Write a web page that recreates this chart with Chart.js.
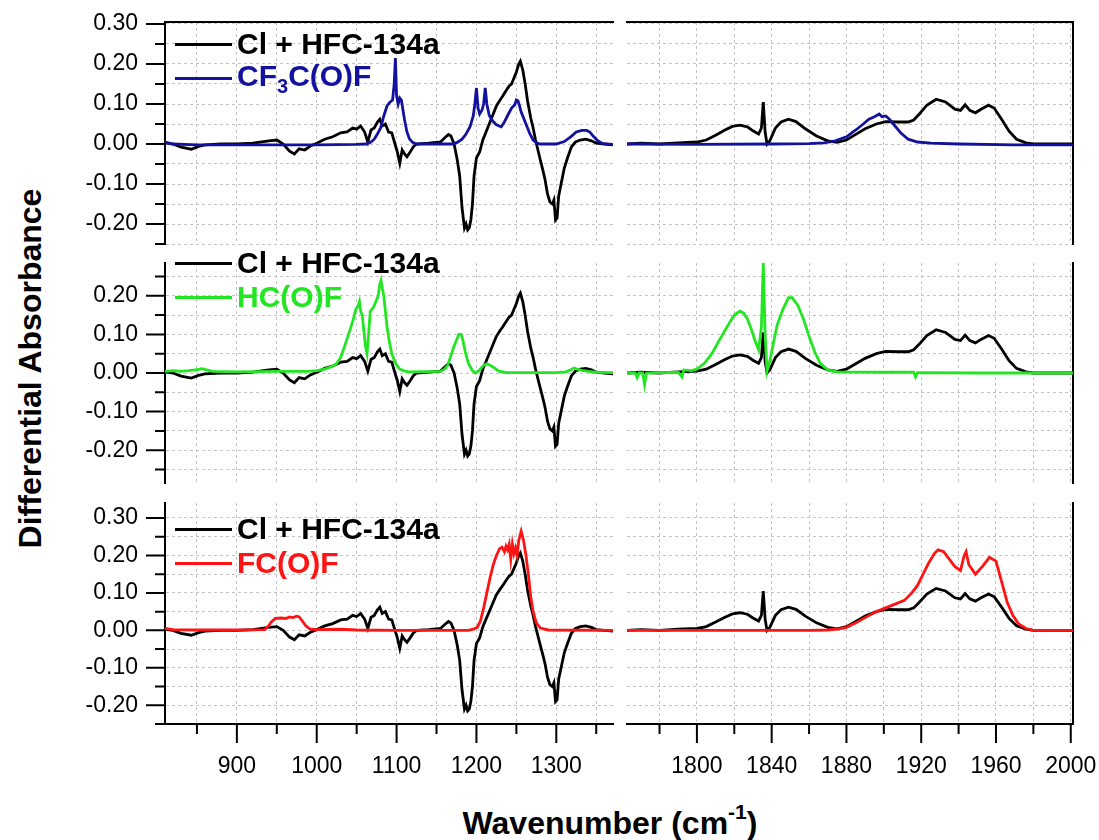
<!DOCTYPE html>
<html>
<head>
<meta charset="utf-8">
<script src="https://cdn.jsdelivr.net/npm/chart.js@4.4.1/dist/chart.umd.min.js"></script>
<style>
  body { margin: 0; background: #fff; overflow: hidden; }
  #wrap { position: relative; width: 1099px; height: 840px; font-family: "Liberation Sans", Arial, sans-serif; }
  #wrap canvas { position: absolute; }
  .leg { position: absolute; left: 175px; height: 30px; display: flex; align-items: center; font-weight: bold; font-size: 30px; white-space: nowrap; z-index: 5; }
  .leg i { display: inline-block; width: 57px; height: 3px; margin-right: 5px; }
  .leg sub { font-size: 20px; vertical-align: -7px; }
  #ytitle { position: absolute; left: -170px; top: 350px; width: 400px; text-align: center; transform: rotate(-90deg); font-weight: bold; font-size: 32px; }
  #xtitle { position: absolute; left: 360px; top: 800px; width: 500px; text-align: center; font-weight: bold; font-size: 32px; }
  #xtitle sup { font-size: 21px; vertical-align: 15px; }
</style>
</head>
<body>
<div id="wrap">
  <div id="ytitle">Differential Absorbance</div>
  <div id="xtitle">Wavenumber (cm<sup>-1</sup>)</div>
</div>
<script>
// Cl + HFC-134a product spectrum (same trace in every panel)
const blackLow = [[810,0.003],[820,0],[830,-0.008],[843,-0.013],[852,-0.006],[860,-0.002],[880,0],[900,0],[920,0.002],[940,0.008],[950,0.01],[958,0],[966,-0.018],[972,-0.025],[978,-0.012],[985,-0.015],[992,-0.005],[1000,0.002],[1010,0.012],[1020,0.018],[1030,0.028],[1038,0.03],[1045,0.04],[1050,0.037],[1055,0.045],[1060,0.03],[1064,0.005],[1068,0.035],[1072,0.04],[1076,0.055],[1079,0.062],[1082,0.045],[1086,0.05],[1090,0.03],[1094,0.028],[1098,0],[1101,-0.02],[1104,-0.048],[1107,-0.015],[1110,-0.025],[1113,-0.032],[1117,-0.02],[1121,-0.007],[1125,0],[1140,0.002],[1155,0.005],[1160,0.015],[1165,0.024],[1168,0.02],[1172,0],[1176,-0.04],[1179,-0.08],[1182,-0.16],[1185,-0.21],[1187,-0.2],[1189,-0.215],[1191,-0.21],[1193,-0.19],[1195,-0.15],[1197,-0.08],[1200,-0.035],[1204,-0.02],[1208,0.01],[1212,0.03],[1216,0.05],[1221,0.075],[1225,0.095],[1229,0.108],[1233,0.12],[1237,0.133],[1241,0.145],[1244,0.15],[1247,0.165],[1250,0.18],[1253,0.2],[1255,0.207],[1258,0.185],[1261,0.15],[1264,0.108],[1268,0.065],[1271,0.04],[1274,0.01],[1277,-0.015],[1280,-0.04],[1283,-0.064],[1286,-0.09],[1289,-0.125],[1292,-0.145],[1295,-0.15],[1297,-0.14],[1299,-0.19],[1301,-0.185],[1303,-0.13],[1306,-0.1],[1310,-0.06],[1314,-0.035],[1319,-0.007],[1324,0.005],[1330,0.01],[1337,0.012],[1344,0.008],[1350,0.002],[1360,0],[1371,-0.002]];
const blackHigh = [[1762.6,0],[1770,0.002],[1780,0],[1790,0.003],[1800,0.005],[1805,0.01],[1810,0.022],[1815,0.035],[1819,0.044],[1823,0.047],[1827,0.043],[1830,0.033],[1833,0.025],[1834.5,0.04],[1835.5,0.105],[1836.5,0.03],[1837.5,0],[1839,0.008],[1842,0.04],[1845,0.055],[1849,0.062],[1853,0.056],[1858,0.038],[1864,0.02],[1870,0.008],[1875,0.004],[1880,0.01],[1885,0.024],[1890,0.038],[1896,0.05],[1901,0.056],[1908,0.055],[1913,0.055],[1916,0.06],[1919,0.075],[1923,0.097],[1928,0.112],[1933,0.105],[1938,0.087],[1941,0.084],[1943.5,0.098],[1946,0.084],[1949,0.078],[1952,0.087],[1956,0.097],[1959,0.09],[1963,0.062],[1967,0.032],[1971,0.012],[1976,0.003],[1980,0],[1990,0],[2001.2,0]];

// reference compounds
const cf3cofLow = [[810,0.005],[820,0],[850,-0.002],[900,-0.002],[1000,-0.002],[1050,-0.001],[1062,0],[1068,0.005],[1072,0.012],[1076,0.025],[1080,0.04],[1084,0.07],[1088,0.095],[1092,0.105],[1095,0.11],[1097,0.15],[1098.5,0.215],[1100,0.12],[1102,0.1],[1104,0.115],[1106,0.11],[1108,0.085],[1110,0.06],[1113,0.03],[1116,0.013],[1120,0.004],[1125,0],[1170,0],[1176,0.004],[1182,0.012],[1187,0.025],[1192,0.043],[1196,0.07],[1198,0.1],[1200,0.14],[1202,0.09],[1204,0.075],[1207,0.085],[1209,0.1],[1211,0.14],[1213,0.1],[1216,0.072],[1220,0.058],[1225,0.048],[1231,0.043],[1235,0.055],[1240,0.075],[1244,0.09],[1248,0.098],[1250,0.11],[1252,0.108],[1254,0.095],[1256,0.08],[1259,0.065],[1263,0.045],[1267,0.025],[1271,0.01],[1276,0.002],[1280,0],[1300,0],[1310,0.006],[1318,0.018],[1325,0.03],[1332,0.034],[1338,0.034],[1342,0.03],[1347,0.018],[1352,0.008],[1358,0.001],[1371,-0.001]];
const cf3cofHigh = [[1762.6,0],[1800,-0.001],[1840,0],[1860,0.001],[1868,0.003],[1874,0.008],[1880,0.018],[1885,0.035],[1889,0.05],[1892,0.062],[1895,0.068],[1897.5,0.075],[1899,0.068],[1901,0.07],[1903,0.062],[1906,0.045],[1909,0.028],[1913,0.012],[1918,0.005],[1925,0.002],[1940,0],[1970,-0.002],[2001.2,-0.002]];
const hcofLow = [[810,0.004],[820,0.006],[830,0.004],[840,0.006],[850,0.009],[856,0.011],[862,0.008],[870,0.004],[900,0.003],[950,0.004],[990,0.004],[1000,0.006],[1010,0.01],[1018,0.016],[1024,0.022],[1030,0.04],[1035,0.07],[1039,0.095],[1043,0.12],[1046,0.14],[1049,0.165],[1052,0.175],[1053.5,0.185],[1055,0.16],[1057,0.15],[1059,0.11],[1061,0.07],[1063,0.05],[1065,0.1],[1067,0.16],[1069,0.165],[1071,0.17],[1073,0.18],[1075,0.19],[1077,0.2],[1079,0.23],[1080.5,0.24],[1082,0.22],[1084,0.2],[1086,0.16],[1088,0.12],[1091,0.08],[1094,0.05],[1098,0.028],[1103,0.012],[1108,0.006],[1115,0.003],[1155,0.004],[1160,0.01],[1164,0.02],[1168,0.045],[1172,0.07],[1176,0.09],[1178,0.1],[1181,0.1],[1183,0.085],[1186,0.055],[1190,0.025],[1195,0.006],[1199,0],[1204,0.008],[1209,0.02],[1213,0.024],[1217,0.02],[1222,0.014],[1228,0.005],[1238,0.001],[1300,0.001],[1312,0.003],[1318,0.008],[1322,0.013],[1326,0.01],[1332,0.007],[1340,0.004],[1350,0.002],[1371,0.001]];
const hcofHigh = [[1762.6,0],[1767,0],[1768,-0.012],[1769,0],[1771,0],[1772,-0.03],[1773,0],[1780,0.001],[1790,0.002],[1792,-0.01],[1793,0.008],[1797,0.006],[1800,0.01],[1804,0.025],[1808,0.05],[1812,0.085],[1815,0.11],[1818,0.135],[1820,0.15],[1823,0.16],[1825,0.155],[1827,0.14],[1829,0.115],[1831,0.085],[1833,0.06],[1834.5,0.12],[1835.5,0.285],[1836.5,0.1],[1837.5,0.005],[1839,0.03],[1841,0.08],[1843,0.125],[1846,0.165],[1849,0.195],[1851,0.195],[1854,0.175],[1857,0.14],[1860,0.095],[1863,0.055],[1866,0.025],[1870,0.008],[1875,0.003],[1900,0.002],[1916,0.002],[1917,-0.01],[1918,0.001],[1950,0],[2001.2,0]];
const fcofLow = [[810,0.005],[820,0.002],[850,0.001],[900,0.001],[935,0.002],[939,0.01],[943,0.022],[948,0.032],[955,0.033],[962,0.032],[966,0.036],[970,0.034],[975,0.038],[978,0.036],[982,0.025],[986,0.013],[991,0.004],[1000,0.002],[1030,0.003],[1050,0.001],[1100,0],[1190,0],[1196,0.003],[1201,0.008],[1205,0.025],[1209,0.06],[1213,0.1],[1217,0.14],[1221,0.175],[1225,0.2],[1229,0.218],[1232,0.222],[1235,0.21],[1237,0.225],[1239,0.215],[1241,0.23],[1243,0.19],[1245,0.23],[1247,0.205],[1249,0.22],[1251,0.2],[1253,0.24],[1256,0.265],[1259,0.24],[1262,0.2],[1265,0.15],[1268,0.09],[1271,0.05],[1275,0.02],[1280,0.006],[1290,0.001],[1371,0]];
const fcofHigh = [[1762.6,0],[1860,0],[1870,0.001],[1876,0.004],[1880,0.008],[1885,0.02],[1890,0.034],[1896,0.05],[1901,0.06],[1906,0.07],[1911,0.08],[1915,0.1],[1918,0.12],[1921,0.15],[1924,0.18],[1927,0.205],[1929,0.215],[1932,0.21],[1935,0.19],[1938,0.17],[1941,0.16],[1943,0.2],[1944,0.21],[1945.5,0.175],[1949,0.15],[1953,0.172],[1956.5,0.195],[1960,0.185],[1963,0.13],[1966,0.075],[1969,0.04],[1972,0.018],[1976,0.005],[1980,0],[2001.2,0]];

// axis ticks and labels
const xTicksLow = [850, 900, 950, 1000, 1050, 1100, 1150, 1200, 1250, 1300, 1350];
const xLabelsLow = [900, 1000, 1100, 1200, 1300];
const xTicksHigh = [1780, 1800, 1820, 1840, 1860, 1880, 1900, 1920, 1940, 1960, 1980, 2000];
const xLabelsHigh = [1800, 1840, 1880, 1920, 1960, 2000];
const yTicksTop = [-0.25, -0.2, -0.15, -0.1, -0.05, 0, 0.05, 0.1, 0.15, 0.2, 0.25, 0.3];
const yLabelsTop = [-0.2, -0.1, 0, 0.1, 0.2, 0.3];
const yTicksMid = [-0.25, -0.2, -0.15, -0.1, -0.05, 0, 0.05, 0.1, 0.15, 0.2, 0.25];
const yLabelsMid = [-0.2, -0.1, 0, 0.1, 0.2];

const refName = 'Cl + HFC-134a';
const compoundNames = ['CF<sub>3</sub>C(O)F', 'HC(O)F', 'FC(O)F'];

Chart.defaults.font.family = "'Liberation Sans', Arial, sans-serif";

const cols = [
  { x0: 165, x1: 613, min: 810, max: 1371, ticks: xTicksLow, labels: xLabelsLow, black: blackLow },
  { x0: 627, x1: 1073, min: 1762.6, max: 2001.2, ticks: xTicksHigh, labels: xLabelsHigh, black: blackHigh }
];
const rows = [
  { y0: 22, y1: 244, min: -0.25, max: 0.305, ticks: yTicksTop, labels: yLabelsTop, color: '#12129e', data: [cf3cofLow, cf3cofHigh], legY: 44 },
  { y0: 263, y1: 483, min: -0.285, max: 0.285, ticks: yTicksMid, labels: yLabelsMid, color: '#22e622', data: [hcofLow, hcofHigh], legY: 263 },
  { y0: 503, y1: 724, min: -0.25, max: 0.34, ticks: yTicksTop, labels: yLabelsTop, color: '#ff1414', data: [fcofLow, fcofHigh], legY: 529 }
];

// outward tick marks (long at labelled values) and the closing top line
const tickMarks = {
  id: 'tickMarks',
  afterDraw(chart, args, o) {
    const { ctx, chartArea: a } = chart;
    ctx.save();
    ctx.strokeStyle = '#000';
    ctx.lineWidth = 2;
    ctx.beginPath();
    if (o.topLine) { ctx.moveTo(a.left - 1, a.top); ctx.lineTo(a.right + 1, a.top); }
    if (o.yMajor) {
      const s = chart.scales.y;
      s.ticks.forEach(t => {
        const p = s.getPixelForValue(t.value);
        const len = o.yMajor.includes(t.value) ? 19 : 10;
        ctx.moveTo(a.left - len, p); ctx.lineTo(a.left, p);
      });
    }
    if (o.xMajor) {
      const s = chart.scales.x;
      s.ticks.forEach(t => {
        const p = s.getPixelForValue(t.value);
        const len = o.xMajor.includes(t.value) ? 19 : 10;
        ctx.moveTo(p, a.bottom); ctx.lineTo(p, a.bottom + len);
      });
    }
    ctx.stroke();
    ctx.restore();
  }
};

const wrap = document.getElementById('wrap');
const toXY = arr => arr.map(([x, y]) => ({ x, y }));

rows.forEach((row, r) => {
  cols.forEach((col, c) => {
    const yw = c === 0 ? 100 : 0;     // room for y tick labels
    const xh = r === 2 ? 75 : 0;      // room for x tick labels
    const pad = { left: c === 0 ? 0 : 10, right: c === 1 ? 70 : 40, top: 45, bottom: r === 2 ? 0 : 45 };
    const cv = document.createElement('canvas');
    cv.width = col.x1 - col.x0 + yw + pad.left + pad.right;
    cv.height = row.y1 - row.y0 + xh + pad.top + pad.bottom;
    cv.style.left = (col.x0 - yw - pad.left) + 'px';
    cv.style.top = (row.y0 - pad.top) + 'px';
    wrap.appendChild(cv);

    new Chart(cv, {
      type: 'line',
      data: {
        datasets: [
          { label: compoundNames[r], data: toXY(row.data[c]), borderColor: row.color },
          { label: refName, data: toXY(col.black), borderColor: '#000' }
        ]
      },
      options: {
        responsive: false,
        animation: false,
        layout: { padding: pad },
        elements: { point: { radius: 0 }, line: { borderWidth: 2.8, tension: 0 } },
        plugins: {
          legend: { display: false },
          tooltip: { enabled: false },
          tickMarks: { topLine: r === 0, yMajor: c === 0 ? row.labels : null, xMajor: r === 2 ? col.labels : null }
        },
        scales: {
          x: {
            type: 'linear', min: col.min, max: col.max,
            afterBuildTicks: s => { s.ticks = col.ticks.map(v => ({ value: v })); },
            afterFit: s => { s.height = xh; },
            grid: { color: '#c4c4c4', lineWidth: 1, drawTicks: false },
            border: { display: r === 2, color: '#000', width: 2, dash: [3, 3] },
            ticks: {
              display: r === 2, autoSkip: false, maxRotation: 0, padding: 29, color: '#000',
              font: { size: 23 },
              callback: v => col.labels.includes(v) ? String(v) : ''
            }
          },
          y: {
            type: 'linear', position: c === 0 ? 'left' : 'right', min: row.min, max: row.max,
            afterBuildTicks: s => { s.ticks = row.ticks.map(v => ({ value: v })); },
            afterFit: s => { s.width = yw; },
            grid: { color: '#c4c4c4', lineWidth: 1, drawTicks: false },
            border: { display: true, color: '#000', width: 2, dash: [3, 3] },
            ticks: {
              display: c === 0, autoSkip: false, padding: 27, color: '#000',
              font: { size: 23 },
              callback: v => row.labels.includes(v) ? v.toFixed(2) : ''
            }
          }
        }
      },
      plugins: [tickMarks]
    });
  });

  // legend block for the panel
  const items = [[refName, '#000'], [compoundNames[r], row.color]];
  items.forEach(([name, color], k) => {
    const d = document.createElement('div');
    d.className = 'leg';
    d.style.top = (row.legY + k * 34 - 15) + 'px';
    d.style.color = color;
    d.innerHTML = '<i style="background:' + color + '"></i><span>' + name + '</span>';
    wrap.appendChild(d);
  });
});
</script>
</body>
</html>
